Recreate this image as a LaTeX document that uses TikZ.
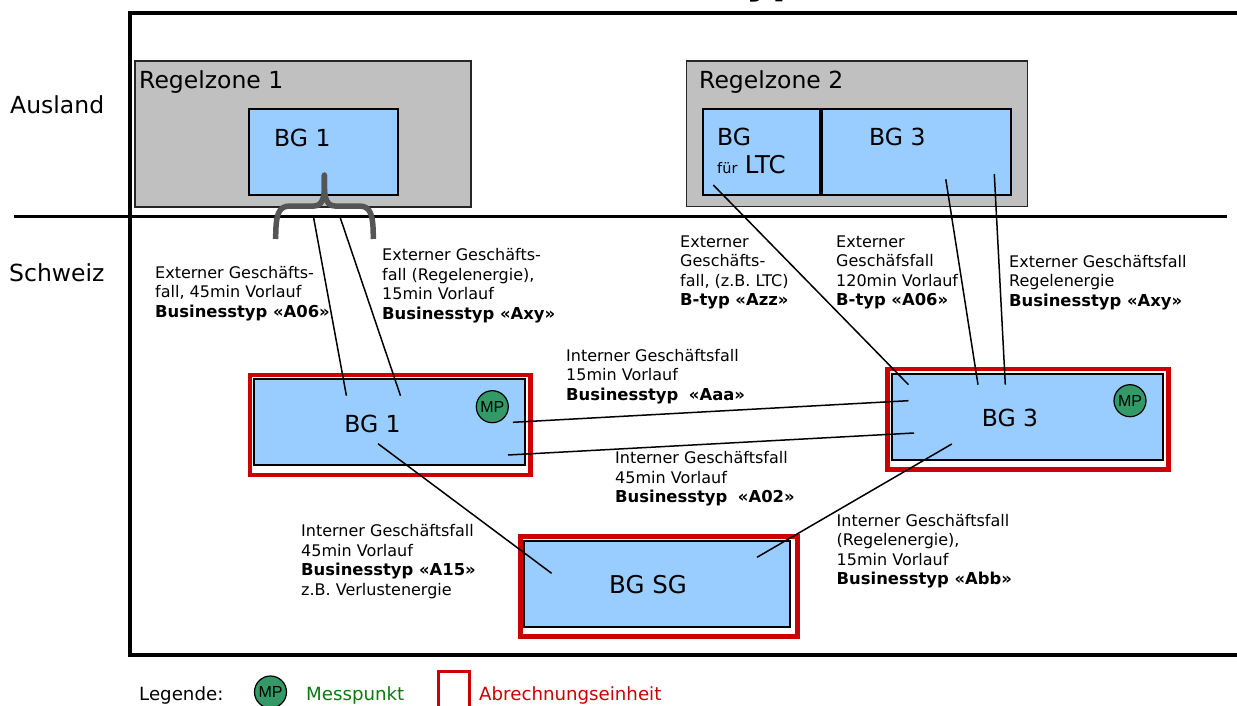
\documentclass[tikz,border=0pt]{standalone}
\usepackage{fontspec}
\setmainfont{DejaVu Sans}
\newfontfamily\mpfont{Liberation Sans}
\definecolor{zone}{HTML}{C0C0C0}
\definecolor{bgblue}{HTML}{99CCFF}
\definecolor{mpgreen}{HTML}{339966}
\definecolor{redbox}{HTML}{CC0000}
\definecolor{bracegray}{HTML}{555555}
\definecolor{legendgreen}{HTML}{0A7A0A}
\newcommand{\bizline}[1]{{\fontsize{16.4}{19.5}\selectfont\bfseries #1}}
\tikzset{
  x=1pt,y=-1pt,
  zonebox/.style={draw=black!85,line width=1.6pt,fill=zone},
  bluebox/.style={draw=black,line width=2pt,fill=bgblue},
  redframe/.style={draw=redbox,line width=4.5pt},
  frameline/.style={draw=black,line width=3.5pt},
  link/.style={draw=black,line width=1.5pt},
  bigtext/.style={inner sep=0pt,anchor=west,font=\fontsize{23.5}{26}\selectfont},
  info/.style={inner sep=0pt,anchor=west,align=left,font=\fontsize{16}{19.5}\selectfont},
  legendtext/.style={inner sep=0pt,anchor=west,font=\fontsize{18.2}{20}\selectfont},
  mpnode/.style={circle,draw=black,line width=1.2pt,fill=mpgreen,minimum size=32pt,inner sep=0pt,font=\mpfont\fontsize{16}{18}\selectfont},
}
\begin{document}
\begin{tikzpicture}
\useasboundingbox (0,0) rectangle (1237,706);
% clipped title remnants
\node[inner sep=0pt,anchor=base west,font=\bfseries\fontsize{40}{40}\selectfont] (titlerest) at (746,-6.5) {yp};
% frame
\draw[frameline] (1245,13) -- (130,13) -- (130,655) -- (1245,655);
% zones
\draw[zonebox] (135,61) rectangle (471,207);
\draw[zonebox] (686.5,61) rectangle (1027.5,206.5);
\node[bigtext] (rz1) at (139,82.5) {Regelzone 1};
\node[bigtext] (rz2) at (699,82.5) {Regelzone 2};
% upper balance groups
\draw[bluebox] (248.7,109.5) rectangle (398,195.3);
\draw[bluebox] (702.6,109.5) rectangle (819.5,195.3);
\draw[bluebox] (821.9,109.5) rectangle (1011,195.3);
\node[bigtext] (bgoneup) at (274,138) {BG 1};
\node[bigtext] (bgltc) at (717,137) {BG};
\node[bigtext,anchor=base west] (fuer) at (717,173) {{\fontsize{14.5}{15}\selectfont für} {\fontsize{24.5}{26}\selectfont LTC}};
\node[bigtext] (bgthreeup) at (869,137) {BG 3};
% divider
\draw[frameline,line width=3pt] (14,216.7) -- (1227,216.7);
\node[bigtext] (ausland) at (10,105) {Ausland};
\node[bigtext] (schweiz) at (9,273) {Schweiz};
% red frames and lower boxes
\draw[redframe] (250,375) rectangle (530.4,475);
\draw[bluebox] (254,379.3) rectangle (525,465.3);
\draw[redframe] (887.3,369) rectangle (1168.3,469.7);
\draw[bluebox] (892,374) rectangle (1162.7,459.7);
\draw[redframe] (520.3,536.3) rectangle (797.7,636.4);
\draw[bluebox] (524.3,541) rectangle (789.6,626.7);
\node[bigtext,anchor=center] (bgone) at (372.5,424) {BG 1};
\node[bigtext,anchor=center] (bgthree) at (1010,417.7) {BG 3};
\node[bigtext,anchor=center,font=\fontsize{24.5}{26}\selectfont] (bgsg) at (648,585) {BG SG};
\node[mpnode] (mpone) at (492.3,406.7) {MP};
\node[mpnode] (mpthree) at (1130,400.7) {MP};
% connector ends
\coordinate (a1) at (313.5,217);   \coordinate (a2) at (346.4,395.7);
\coordinate (b1) at (340,217);     \coordinate (b2) at (400.5,395.7);
\coordinate (c1) at (713.3,185);   \coordinate (c2) at (908.5,384.7);
\coordinate (d1) at (945.8,179.3); \coordinate (d2) at (978,384.7);
\coordinate (e1) at (994.3,174);   \coordinate (e2) at (1005.3,384.7);
\coordinate (f1) at (512.9,422.3); \coordinate (f2) at (908.5,400.7);
\coordinate (g1) at (508,455);     \coordinate (g2) at (914,433);
\coordinate (h1) at (378,443.7);   \coordinate (h2) at (551.6,573.3);
\coordinate (i1) at (951.8,444);   \coordinate (i2) at (757,557.3);
\draw[link] (a1) -- (a2);
\draw[link] (b1) -- (b2);
\draw[link] (c1) -- (c2);
\draw[link] (d1) -- (d2);
\draw[link] (e1) -- (e2);
\draw[link] (f1) -- (f2);
\draw[link] (g1) -- (g2);
\draw[link] (h1) -- (h2);
\draw[link] (i1) -- (i2);
% brace
\coordinate (bl) at (275.7,239);
\coordinate (br) at (373.3,239);
\coordinate (bt) at (324.4,175);
\draw[draw=bracegray,line width=5.5pt] (bl) .. controls (275.7,215) and (278,206) .. (290,206) -- (314,206) .. controls (322,206) and (324.4,198) .. (324.4,186) -- (bt);
\draw[draw=bracegray,line width=5.5pt] (br) .. controls (373.3,215) and (371,206) .. (359,206) -- (335,206) .. controls (327,206) and (324.4,198) .. (324.4,186) -- (bt);
\fill[bracegray] (bt) circle (2.75pt);
% labels
\node[info] (l1) at (155,293.2) {Externer Geschäfts-\\fall, 45min Vorlauf\\\bizline{Businesstyp «A06»}};
\node[info] (l2) at (382,285.5) {Externer Geschäfts-\\fall (Regelenergie),\\15min Vorlauf\\\bizline{Businesstyp «Axy»}};
\node[info] (l3) at (680,272.3) {Externer\\Geschäfts-\\fall, (z.B. LTC)\\\bizline{B-typ «Azz»}};
\node[info] (l4) at (836,272.3) {Externer\\Geschäfsfall\\120min Vorlauf\\\bizline{B-typ «A06»}};
\node[info] (l5) at (1009,282.5) {Externer Geschäftsfall\\Regelenergie\\\bizline{Businesstyp «Axy»}};
\node[info] (l6) at (566,376.5) {Interner Geschäftsfall\\15min Vorlauf\\\bizline{Businesstyp\hspace{0.65em}«Aaa»}};
\node[info] (l7) at (615,479) {Interner Geschäftsfall\\45min Vorlauf\\\bizline{Businesstyp\hspace{0.65em}«A02»}};
\node[info] (l8) at (301,561.5) {Interner Geschäftsfall\\45min Vorlauf\\\bizline{Businesstyp «A15»}\\z.B. Verlustenergie};
\node[info] (l9) at (836.5,551) {Interner Geschäftsfall\\(Regelenergie),\\15min Vorlauf\\\bizline{Businesstyp «Abb»}};
% legend
\node[legendtext] (legend) at (139,695) {Legende:};
\node[mpnode] (mplegend) at (270.5,692) {MP};
\node[legendtext,text=legendgreen] (mess) at (306,695) {Messpunkt};
\draw[draw=redbox,line width=3pt] (438,715) -- (438,671) -- (469,671) -- (469,715);
\node[legendtext,text=redbox] (abr) at (479,695) {Abrechnungseinheit};
\end{tikzpicture}
\end{document}
